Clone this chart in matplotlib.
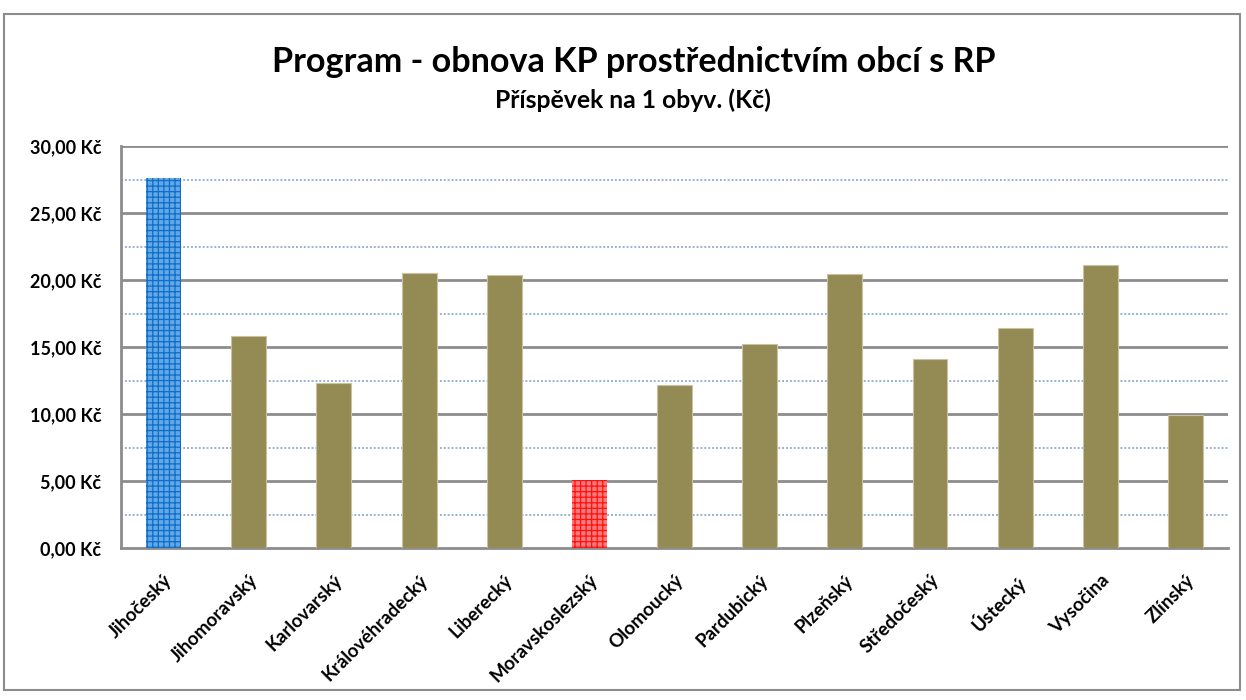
import numpy as np
import matplotlib.pyplot as plt
from matplotlib.patches import Rectangle

# data
kraje = ['Jihočeský', 'Jihomoravský', 'Karlovarský', 'Královéhradecký', 'Liberecký',
         'Moravskoslezský', 'Olomoucký', 'Pardubický', 'Plzeňský', 'Středočeský',
         'Ústecký', 'Vysočina', 'Zlínský']
prispevek = [27.6, 15.8, 12.3, 20.5, 20.35, 5.1, 12.15, 15.2, 20.45, 14.1, 16.4, 21.15, 9.9]
ytick_vals = [0, 5, 10, 15, 20, 25, 30]
ytick_labels = ['0,00 Kč', '5,00 Kč', '10,00 Kč', '15,00 Kč', '20,00 Kč', '25,00 Kč', '30,00 Kč']

plt.rcParams['font.family'] = ['Lato', 'DejaVu Sans']
plt.rcParams['hatch.linewidth'] = 0.9

fig = plt.figure(figsize=(12.46, 7), dpi=100)
ax = fig.add_axes([0.0971, 0.2171, 0.8885, 0.5743])

x = np.arange(len(kraje))
bars = ax.bar(x, prispevek, width=0.41, color='#948A54', edgecolor='#C9C29F',
              linewidth=0.8, zorder=3)

# highlighted bars: max (blue) and min (red)
bars[0].set_facecolor('#62A8E6')
bars[0].set_edgecolor('#0E6DC8')
bars[0].set_hatch('+++')
bars[0].set_linewidth(0)
bars[5].set_facecolor('#FF7A7A')
bars[5].set_edgecolor('#FF1010')
bars[5].set_hatch('+++')
bars[5].set_linewidth(0)

ax.set_xlim(-0.5, len(kraje) - 0.5)
ax.set_ylim(0, 30)

# gridlines
for v in ytick_vals[1:]:
    ax.axhline(v, color='#8C8C8C', linewidth=2, zorder=1)
for v in np.arange(2.5, 30, 5):
    ax.axhline(v, color='#95B3D7', linewidth=1.4, linestyle=(0, (1, 1)), zorder=1)

ax.set_yticks(ytick_vals)
ax.set_yticklabels(ytick_labels, fontsize=13, fontweight='bold')
ax.set_xticks(x)
ax.set_xticklabels(kraje, fontsize=13.5, fontweight='bold', rotation=45,
                   ha='right', va='top', rotation_mode='anchor')
ax.tick_params(axis='both', length=0)
ax.tick_params(axis='y', pad=14)
ax.tick_params(axis='x', pad=17)

for s in ['top', 'right']:
    ax.spines[s].set_visible(False)
for s in ['left', 'bottom']:
    ax.spines[s].set_color('#8C8C8C')
    ax.spines[s].set_linewidth(2)

fig.text(0.509, 0.911, 'Program - obnova KP prostřednictvím obcí s RP',
         ha='center', va='center', fontsize=24.6, fontweight='bold')
fig.text(0.508, 0.857, 'Příspěvek na 1 obyv. (Kč)',
         ha='center', va='center', fontsize=17.8, fontweight='bold')

# outer chart frame
fig.patches.append(Rectangle((4 / 1246, 10 / 700), 1236 / 1246, 676 / 700,
                             transform=fig.transFigure, fill=False,
                             edgecolor='#8C8C8C', linewidth=1.5))

fig.savefig('out.png', dpi=100)
